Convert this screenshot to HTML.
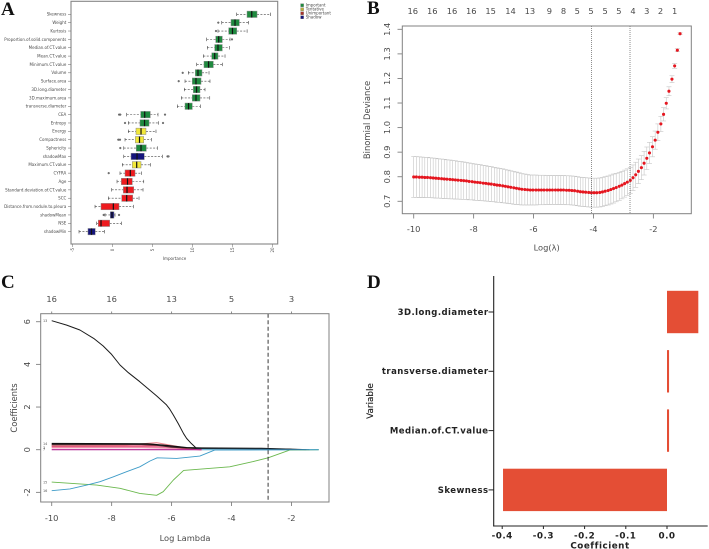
<!DOCTYPE html>
<html>
<head>
<meta charset="utf-8">
<title>Feature selection figure</title>
<style>
html,body{margin:0;padding:0;background:#fff;width:709px;height:549px;overflow:hidden}
svg{display:block;position:absolute;left:0;top:0}
text{font-family:"DejaVu Sans","Liberation Sans",sans-serif}
.soft{filter:blur(.35px)}
.tl{font-family:"Liberation Serif",serif;font-weight:bold;font-size:19px;fill:#111}
</style>
</head>
<body>
<svg id="fig" xmlns="http://www.w3.org/2000/svg" width="709" height="549" viewBox="0 0 709 549">
<text class="tl" x="1" y="15">A</text>
<text class="tl" x="367" y="14">B</text>
<text class="tl" x="1" y="288">C</text>
<text class="tl" x="367" y="288">D</text>
<g id="pa" class="soft"></g>
<g id="pb" class="soft"></g>
<g id="pc" class="soft"></g>
<g id="pd" class="soft"></g>
</svg>
<script>
/* ---------- Panel A data ---------- */
const importanceCategories = ["Skewness","Weight","Kurtosis","Proportion.of.solid.components","Median.of.CT.value","Mean.CT.value","Minimum.CT.value","Volume","Surface.area","3D.long.diameter","3D.maximum.area","transverse.diameter","CEA","Entropy","Energy","Compactness","Sphericity","shadowMax","Maximum.CT.value","CYFRA","Age","Standard.deviation.of.CT.value","SCC","Distance.from.nodule.to.pleura","shadowMean","NSE","shadowMin"];
const whiskerLow = [15.5,13.63,13.16,11.75,11.83,11.33,10.5,9.45,9.04,8.95,8.58,8.08,1.75,1.95,1.95,1.54,1.38,1.38,1.2,0.91,0.54,-0.13,-0.55,-2.21,-0.96,-2,-4.21];
const quartile1 = [16.79,14.79,14.5,12.88,12.75,12.38,11.41,10.33,9.95,10.08,9.95,9.04,3.5,3.41,2.91,2.83,2.95,2.29,2.45,1.54,1.08,1.33,1.13,-1.46,-0.3,-1.8,-3.09];
const medians = [17.38,15.29,14.97,13.25,13.16,12.75,11.98,10.66,10.41,10.48,10.41,9.48,4,3.98,3.54,3.35,3.54,3.04,3,2.2,1.85,1.79,1.75,0.08,-0.09,-1.46,-2.65];
const quartile3 = [18.04,15.83,15.5,13.7,13.7,13.16,12.58,11.16,11.04,10.91,10.91,9.95,4.7,4.54,4.16,3.88,4.2,3.95,3.54,2.79,2.45,2.63,2.5,0.79,0.16,-0.38,-2.18];
const whiskerHigh = [19.7,17,16.8,14.66,14.58,14.04,13.7,12.04,12.16,11.54,12.13,10.95,5.66,5.75,5.41,4.83,5.58,6.2,4.7,3.58,3.88,3.79,3.29,2.58,0.29,1.08,-1.05];
const decisions = ["Important","Important","Important","Important","Important","Important","Important","Important","Important","Important","Important","Important","Important","Important","Tentative","Tentative","Important","Shadow","Tentative","Unimportant","Unimportant","Unimportant","Unimportant","Unimportant","Shadow","Unimportant","Shadow"];
const outlierValues = [[],[13.2],[12.91],[14.91],[],[],[],[8.75],[8.25],[],[],[],[0.8,0.95,6.54],[1.54,6.29],[],[0.7,0.91],[0.95],[6.85,6.98],[],[-0.5],[],[],[],[],[-1.13,0.79],[],[]];
const importanceTicks = [-5,0,5,10,15,20];
const legendLabels = ["Important","Tentative","Unimportant","Shadow"];

/* ---------- Panel B data ---------- */
const cvLogLambda = [-10,-9.91,-9.81,-9.72,-9.63,-9.54,-9.44,-9.35,-9.26,-9.17,-9.07,-8.98,-8.89,-8.79,-8.7,-8.61,-8.52,-8.42,-8.33,-8.24,-8.15,-8.05,-7.96,-7.87,-7.78,-7.68,-7.59,-7.5,-7.41,-7.31,-7.22,-7.13,-7.03,-6.94,-6.85,-6.76,-6.66,-6.57,-6.48,-6.39,-6.29,-6.2,-6.11,-6.02,-5.92,-5.83,-5.74,-5.65,-5.55,-5.46,-5.37,-5.27,-5.18,-5.09,-5,-4.9,-4.81,-4.72,-4.63,-4.53,-4.44,-4.35,-4.26,-4.16,-4.07,-3.98,-3.89,-3.79,-3.7,-3.61,-3.51,-3.42,-3.33,-3.24,-3.14,-3.05,-2.96,-2.87,-2.77,-2.68,-2.59,-2.5,-2.4,-2.31,-2.22,-2.13,-2.03,-1.94,-1.85,-1.75,-1.66,-1.57,-1.48,-1.38,-1.29,-1.2,-1.11];
const cvDeviance = [.799,.799,.798,.798,.797,.797,.796,.795,.794,.793,.792,.791,.79,.789,.788,.787,.786,.785,.784,.783,.781,.78,.778,.777,.776,.774,.773,.771,.77,.768,.766,.765,.763,.761,.759,.757,.755,.753,.751,.749,.748,.747,.746,.746,.746,.746,.746,.746,.746,.746,.746,.746,.746,.746,.746,.745,.745,.744,.743,.741,.739,.738,.737,.736,.735,.735,.735,.736,.738,.741,.744,.748,.752,.756,.761,.766,.772,.778,.785,.796,.808,.822,.837,.855,.875,.897,.922,.949,.981,1.015,1.054,1.099,1.148,1.197,1.251,1.315,1.382];
const cvStdErr = [.083,.083,.083,.082,.082,.082,.081,.081,.081,.08,.08,.08,.079,.079,.078,.078,.077,.077,.076,.075,.075,.074,.074,.073,.073,.072,.072,.071,.071,.07,.07,.069,.069,.068,.068,.067,.067,.066,.065,.064,.063,.062,.061,.061,.061,.06,.06,.06,.059,.059,.059,.059,.059,.059,.059,.059,.059,.059,.059,.059,.059,.059,.059,.059,.059,.059,.059,.059,.059,.059,.059,.059,.059,.058,.057,.056,.055,.054,.053,.052,.051,.05,.049,.048,.046,.043,.041,.037,.034,.031,.027,.023,.018,.014,.01,.006,.004];
const cvXTicks = [-10,-8,-6,-4,-2];
const cvYTicks = [0.7,0.8,0.9,1.0,1.1,1.2,1.3,1.4];
const cvTopLabels = [16,16,16,16,15,14,13,9,8,5,5,5,5,4,3,2,1];
const cvTopAt = [-10.03,-9.38,-8.72,-8.08,-7.43,-6.77,-6.12,-5.47,-5,-4.54,-4.08,-3.61,-3.15,-2.68,-2.22,-1.76,-1.29];
const cvLambdaLines = [-4.07,-2.78];

/* ---------- Panel C data ---------- */
const pathBlackMain = [[-10,6.05],[-9.5,5.84],[-9.06,5.61],[-8.6,5.22],[-8.28,4.86],[-8,4.47],[-7.72,3.97],[-7.44,3.61],[-7.06,3.19],[-6.5,2.52],[-6.17,2.1],[-6.06,1.9],[-5.94,1.62],[-5.78,1.23],[-5.6,.75],[-5.5,.53],[-5.35,.3],[-5.17,.06]];
const pathGreen = [[-10,-1.52],[-8.5,-1.66],[-7.72,-1.81],[-7.06,-2.05],[-6.5,-2.14],[-6.28,-1.97],[-5.94,-1.42],[-5.6,-.97],[-4.06,-.8],[-3.28,-.56],[-2.78,-.38],[-2.06,-.02],[-1.09,0]];
const pathBlue = [[-10,-1.92],[-9.39,-1.84],[-8.83,-1.66],[-8.39,-1.5],[-7.94,-1.27],[-7.5,-1.03],[-7.06,-.8],[-6.72,-.53],[-6.48,-.38],[-5.83,-.41],[-5.06,-.3],[-4.56,-.02],[-1.09,0]];
const pathBlackA = [[-10,.29],[-7.5,.28],[-6.8,.27],[-6.2,.2],[-5.5,.1],[-5,.08],[-3,.06],[-1.5,0]];
const pathBlackB = [[-10,.24],[-7,.25],[-6.5,.21],[-6,.12],[-5.2,.06],[-4,.05],[-2,.02]];
const pathSalmon = [[-10,.2],[-7.5,.22],[-6.5,.33],[-6,.2],[-5.5,.08],[-5,0]];
const pathCrimson = [[-10,.17],[-7,.18],[-6.3,.19],[-5.6,.06],[-5,0]];
const pathPink = [[-10,.13],[-7,.14],[-6,.1],[-5.2,.02],[-5,0]];
const pathRose = [[-10,.09],[-7,.1],[-6,.06],[-5,0]];
const pathMagenta = [[-10,0],[-5,0]];
const pathTeal = [[-5,0],[-1.09,0]];
const pathTealTop = [[-5.2,.05],[-3,.05],[-2,.02],[-1.4,0]];
const coefXTicks = [-10,-8,-6,-4,-2];
const coefYTicks = [-2,0,2,4,6];
const coefTopLabels = [16,16,13,5,3];
const coefLambdaLine = -2.78;

/* ---------- Panel D data ---------- */
const barCategories = ["3D.long.diameter","transverse.diameter","Median.of.CT.value","Skewness"];
const barCoefficients = [0.076,0.005,0.005,-0.398];
const barXTicks = [-0.4,-0.3,-0.2,-0.1,0.0];

/* ---------- helpers ---------- */
const NS = "http://www.w3.org/2000/svg";
function mk(parent, tag, attrs, txt) {
  const el = document.createElementNS(NS, tag);
  for (const k in attrs) el.setAttribute(k, attrs[k]);
  if (txt !== undefined) el.textContent = txt;
  parent.appendChild(el);
  return el;
}
function named(el, name) {
  
  
  return el;
}
const GREY = "#808080", TXT = "#4a4a4a";

/* ---------- Panel A ---------- */
(function () {
  const p = document.getElementById("pa");
  const xA = v => 112.7 + v * 8;
  const yA = i => 14.3 + i * 8.36;
  const fills = {Important:"#1f8a3f",Tentative:"#f2e83a",Unimportant:"#ee1b1f",Shadow:"#15157c"};
  named(mk(p,"rect",{x:71,y:1.3,width:206.7,height:242.7,fill:"none",stroke:"#858585","stroke-width":1.1}),"plot-frame");
  importanceCategories.forEach((c,i)=>{
    const y = yA(i);
    named(mk(p,"line",{x1:68,x2:71,y1:y,y2:y,stroke:"#666","stroke-width":.5}),"y-tick");
    named(mk(p,"text",{x:66.3,y:y+1.4,"text-anchor":"end","font-size":4,fill:TXT},c),"y-tick-label");
    const g = named(mk(p,"g",{}),"box-"+c);
    mk(g,"line",{x1:xA(whiskerLow[i]),x2:xA(quartile1[i]),y1:y,y2:y,stroke:"#444","stroke-width":.6,"stroke-dasharray":"2 1.4"});
    mk(g,"line",{x1:xA(quartile3[i]),x2:xA(whiskerHigh[i]),y1:y,y2:y,stroke:"#444","stroke-width":.6,"stroke-dasharray":"2 1.4"});
    mk(g,"line",{x1:xA(whiskerLow[i]),x2:xA(whiskerLow[i]),y1:y-1.7,y2:y+1.7,stroke:"#444","stroke-width":.6});
    mk(g,"line",{x1:xA(whiskerHigh[i]),x2:xA(whiskerHigh[i]),y1:y-1.7,y2:y+1.7,stroke:"#444","stroke-width":.6});
    mk(g,"rect",{x:xA(quartile1[i]),y:y-3.2,width:xA(quartile3[i])-xA(quartile1[i]),height:6.4,fill:fills[decisions[i]],stroke:"#8a8a8a","stroke-width":.5});
    mk(g,"line",{x1:xA(medians[i]),x2:xA(medians[i]),y1:y-3.2,y2:y+3.2,stroke:"#111","stroke-width":1.2});
    outlierValues[i].forEach(v=>{
      mk(g,"circle",{cx:xA(v),cy:y,r:.9,fill:"#777",stroke:"#444","stroke-width":.35});
    });
  });
  importanceTicks.forEach(t=>{
    const x = xA(t);
    named(mk(p,"line",{x1:x,x2:x,y1:244,y2:247,stroke:"#666","stroke-width":.5}),"x-tick");
    named(mk(p,"text",{x:0,y:0,transform:`translate(${x+1.3},250) rotate(-90)`,"text-anchor":"middle","font-size":4,fill:TXT},t),"x-tick-label");
  });
  named(mk(p,"text",{x:174.5,y:260,"text-anchor":"middle","font-size":4.1,fill:TXT},"Importance"),"x-axis-title");
  const legendColors = ["#1f8a3f","#b9ad3c","#a8342c","#15157c"];
  legendLabels.forEach((l,i)=>{
    const y = 5.3 + i*4;
    named(mk(p,"rect",{x:300.6,y:y-1.5,width:3,height:3,fill:legendColors[i],stroke:"#555","stroke-width":.25}),"legend-swatch");
    named(mk(p,"text",{x:305.7,y:y+1.3,"font-size":4,fill:TXT},l),"legend-entry");
  });
})();

/* ---------- Panel B ---------- */
(function () {
  const p = document.getElementById("pb");
  const xB = v => 413.7 + (v + 10) * 29.96;
  const yB = v => 201.3 - (v - 0.7) * 245.7;
  cvLogLambda.forEach((v,i)=>{
    const x = xB(v), hi = yB(cvDeviance[i]+cvStdErr[i]), lo = yB(cvDeviance[i]-cvStdErr[i]);
    const g = named(mk(p,"g",{stroke:"#c6c6c6","stroke-width":.6}),"error-bar");
    mk(g,"line",{x1:x,x2:x,y1:hi,y2:lo});
    mk(g,"line",{x1:x-2.5,x2:x+2.5,y1:hi,y2:hi});
    mk(g,"line",{x1:x-2.5,x2:x+2.5,y1:lo,y2:lo});
  });
  cvLogLambda.forEach((v,i)=>{
    named(mk(p,"circle",{cx:xB(v),cy:yB(cvDeviance[i]),r:1.55,fill:"#e5161f"}),"deviance-point");
  });
  cvLambdaLines.forEach(v=>{
    named(mk(p,"line",{x1:xB(v),x2:xB(v),y1:26,y2:213.7,stroke:"#444","stroke-width":.6,"stroke-dasharray":"1 1"}),"lambda-reference-line");
  });
  named(mk(p,"rect",{x:402.3,y:26,width:289,height:187.7,fill:"none",stroke:GREY,"stroke-width":1}),"plot-frame");
  cvXTicks.forEach(t=>{
    const x = xB(t);
    named(mk(p,"line",{x1:x,x2:x,y1:213.7,y2:218.5,stroke:GREY,"stroke-width":.9}),"x-tick");
    named(mk(p,"text",{x:x,y:232,"text-anchor":"middle","font-size":8.3,fill:TXT},t),"x-tick-label");
  });
  cvYTicks.forEach(t=>{
    const y = yB(t);
    named(mk(p,"line",{x1:397.5,x2:402.3,y1:y,y2:y,stroke:GREY,"stroke-width":.9}),"y-tick");
    named(mk(p,"text",{transform:`translate(390,${y}) rotate(-90)`,"text-anchor":"middle","font-size":8.3,fill:TXT},t.toFixed(1)),"y-tick-label");
  });
  cvTopLabels.forEach((t,i)=>{
    named(mk(p,"text",{x:xB(cvTopAt[i]),y:14,"text-anchor":"middle","font-size":8.3,fill:TXT},t),"top-axis-label");
  });
  named(mk(p,"text",{transform:"translate(370,120) rotate(-90)","text-anchor":"middle","font-size":8.4,fill:TXT},"Binomial Deviance"),"y-axis-title");
  named(mk(p,"text",{x:546.7,y:250.5,"text-anchor":"middle","font-size":8.3,fill:TXT},"Log(\u03BB)"),"x-axis-title");
})();

/* ---------- Panel C ---------- */
(function () {
  const p = document.getElementById("pc");
  const xC = v => 51.7 + (v + 10) * 29.97;
  const yC = v => 449.7 - v * 21.33;
  const pts = arr => arr.map(d => xC(d[0]).toFixed(1) + "," + yC(d[1]).toFixed(1)).join(" ");
  const line = (arr,col,w,name) => named(mk(p,"polyline",{points:pts(arr),fill:"none",stroke:col,"stroke-width":w,"stroke-linejoin":"round"}),name);
  line(pathRose,"#f3a6bd",1.3,"path-rose");
  line(pathPink,"#ee7f9f",1.4,"path-pink");
  line(pathCrimson,"#dc4a6e",1.2,"path-crimson");
  line(pathSalmon,"#ef8a92",1.1,"path-salmon");
  line(pathBlackB,"#4a2a30",1.2,"path-dark");
  line(pathBlackA,"#111",1.2,"path-black-upper");
  line(pathMagenta,"#b0208f",1.2,"path-magenta");
  line(pathTeal,"#4aa8cf",1,"path-teal");
  line(pathTealTop,"#1c2e3a",.9,"path-dark-teal");
  line(pathGreen,"#6bb84e",.9,"path-green");
  line(pathBlue,"#3f9cc8",.9,"path-blue");
  line(pathBlackMain,"#1a1a1a",1,"path-black-main");
  named(mk(p,"line",{x1:xC(coefLambdaLine),x2:xC(coefLambdaLine),y1:313.7,y2:502,stroke:"#222","stroke-width":.9,"stroke-dasharray":"4 2.5"}),"lambda-reference-line");
  named(mk(p,"rect",{x:40.7,y:313.7,width:288.3,height:188.3,fill:"none",stroke:GREY,"stroke-width":1}),"plot-frame");
  coefXTicks.forEach((t,i)=>{
    const x = xC(t);
    named(mk(p,"line",{x1:x,x2:x,y1:502,y2:506,stroke:GREY,"stroke-width":.9}),"x-tick");
    named(mk(p,"text",{x:x,y:521,"text-anchor":"middle","font-size":8.3,fill:TXT},t),"x-tick-label");
    named(mk(p,"line",{x1:x,x2:x,y1:311.5,y2:313.7,stroke:GREY,"stroke-width":.9}),"top-tick");
    named(mk(p,"text",{x:x,y:302,"text-anchor":"middle","font-size":8.3,fill:TXT},coefTopLabels[i]),"top-axis-label");
  });
  coefYTicks.forEach(t=>{
    const y = yC(t);
    named(mk(p,"line",{x1:36,x2:40.7,y1:y,y2:y,stroke:GREY,"stroke-width":.9}),"y-tick");
    named(mk(p,"text",{transform:`translate(30,${y}) rotate(-90)`,"text-anchor":"middle","font-size":8.3,fill:TXT},t),"y-tick-label");
  });
  [[13,6.05],[15,-1.52],[16,-1.92],[14,.28],[3,.1],[7,.03]].forEach(d=>{
    named(mk(p,"text",{x:43,y:yC(d[1])+1.2,"font-size":3.4,fill:"#555"},d[0]),"path-index-label");
  });
  named(mk(p,"text",{transform:"translate(17,408) rotate(-90)","text-anchor":"middle","font-size":8.4,fill:TXT},"Coefficients"),"y-axis-title");
  named(mk(p,"text",{x:185,y:541,"text-anchor":"middle","font-size":8.3,fill:TXT},"Log Lambda"),"x-axis-title");
})();

/* ---------- Panel D ---------- */
(function () {
  const p = document.getElementById("pd");
  const xD = v => 667 + v * 412;
  const yD = i => 312 + i * 59.3;
  barCategories.forEach((c,i)=>{
    const y = yD(i), v = barCoefficients[i];
    named(mk(p,"rect",{x:Math.min(xD(0),xD(v)),y:y-21.2,width:Math.abs(xD(v)-xD(0)),height:42.4,fill:"#e44e35"}),"bar-"+c);
    named(mk(p,"line",{x1:488.5,x2:493.7,y1:y,y2:y,stroke:"#222","stroke-width":1}),"y-tick");
    named(mk(p,"text",{x:488.5,y:y+2.9,"text-anchor":"end","font-size":8.5,"font-weight":"bold",fill:"#222","letter-spacing":".45"},c),"y-tick-label");
  });
  named(mk(p,"line",{x1:493.7,x2:493.7,y1:276,y2:526.5,stroke:"#222","stroke-width":1.1}),"y-axis-line");
  named(mk(p,"line",{x1:493.2,x2:707.7,y1:526,y2:526,stroke:"#222","stroke-width":1.1}),"x-axis-line");
  barXTicks.forEach(t=>{
    const x = xD(t);
    named(mk(p,"line",{x1:x,x2:x,y1:526,y2:529,stroke:"#222","stroke-width":1}),"x-tick");
    named(mk(p,"text",{x:x,y:538.5,"text-anchor":"middle","font-size":8.8,"font-weight":"bold",fill:"#222","letter-spacing":".5"},t.toFixed(1)),"x-tick-label");
  });
  named(mk(p,"text",{transform:"translate(373,401) rotate(-90)","text-anchor":"middle","font-size":8.8,fill:"#222",stroke:"#222","stroke-width":.15},"Variable"),"y-axis-title");
  named(mk(p,"text",{x:600,y:548.5,"text-anchor":"middle","font-size":8.8,"font-weight":"bold",fill:"#222","letter-spacing":".5"},"Coefficient"),"x-axis-title");
})();
</script>
</body>
</html>
